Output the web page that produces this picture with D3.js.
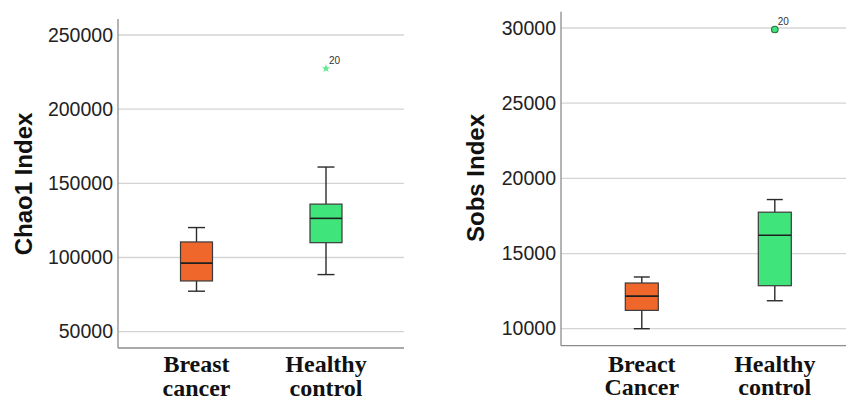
<!DOCTYPE html>
<html>
<head>
<meta charset="utf-8">
<script src="https://cdn.jsdelivr.net/npm/d3@7"></script>
<style>
  html, body { margin: 0; padding: 0; background: #fff; }
  svg { display: block; }
</style>
</head>
<body>
<svg id="chart" width="846" height="400"></svg>
<script>
// Chao1 richness: box-plot statistics per group
const chaoGroups = [["Breast", "cancer"], ["Healthy", "control"]];
const chaoLow    = [77300, 88500];
const chaoQ1     = [84200, 110000];
const chaoMedian = [96200, 126400];
const chaoQ3     = [110500, 136000];
const chaoHigh   = [120200, 161000];
const chaoOutliers = [{ group: 1, value: 227400, label: "20" }];
const chaoTicks  = [50000, 100000, 150000, 200000, 250000];

// Observed species (Sobs): box-plot statistics per group
const sobsGroups = [["Breact", "Cancer"], ["Healthy", "control"]];
const sobsLow    = [10000, 11860];
const sobsQ1     = [11220, 12860];
const sobsMedian = [12170, 16220];
const sobsQ3     = [13040, 17750];
const sobsHigh   = [13440, 18590];
const sobsOutliers = [{ group: 1, value: 29900, label: "20" }];
const sobsTicks  = [10000, 15000, 20000, 25000, 30000];

const groupColors = ["#F0672C", "#3FE57B"];

const svg = d3.select("#chart");

function panel(opt) {
  const g = svg.append("g");
  const y = d3.scaleLinear().domain(opt.domain).range([opt.bottom, opt.top]);
  const x = d3.scaleBand().domain(d3.range(opt.groups.length))
    .range(opt.bandRange).paddingInner(0).paddingOuter(0);

  // horizontal grid lines
  g.append("g").selectAll("line").data(opt.ticks).join("line")
    .attr("x1", opt.left).attr("x2", opt.gridRight)
    .attr("y1", d => y(d)).attr("y2", d => y(d))
    .attr("stroke", "#d4d4d4").attr("stroke-width", 1.3);

  // y axis with tick labels only
  const ax = g.append("g").attr("transform", `translate(${opt.left},0)`)
    .call(d3.axisLeft(y).tickValues(opt.ticks).tickSize(0).tickPadding(5).tickFormat(d3.format("d")));
  ax.select(".domain").remove();
  ax.selectAll("text").attr("font-family", "Liberation Sans, Arial, sans-serif")
    .attr("font-size", 19.5).attr("fill", "#222");

  // axis frame lines (left and bottom)
  g.append("line").attr("x1", opt.left).attr("x2", opt.left)
    .attr("y1", opt.top).attr("y2", opt.bottom)
    .attr("stroke", "#8c8c8c").attr("stroke-width", 1.3);
  g.append("line").attr("x1", opt.left).attr("x2", opt.gridRight)
    .attr("y1", opt.bottom).attr("y2", opt.bottom)
    .attr("stroke", "#8c8c8c").attr("stroke-width", 1.3);

  // boxes and whiskers
  const bw = opt.boxWidth, cw = opt.capWidth;
  opt.groups.forEach((grp, i) => {
    const cx = x(i) + x.bandwidth() / 2;
    const s = "#2b2b2b";
    g.append("line").attr("x1", cx).attr("x2", cx)
      .attr("y1", y(opt.high[i])).attr("y2", y(opt.q3[i])).attr("stroke", s).attr("stroke-width", 1.4);
    g.append("line").attr("x1", cx).attr("x2", cx)
      .attr("y1", y(opt.q1[i])).attr("y2", y(opt.low[i])).attr("stroke", s).attr("stroke-width", 1.4);
    [opt.high[i], opt.low[i]].forEach(v => {
      g.append("line").attr("x1", cx - cw / 2).attr("x2", cx + cw / 2)
        .attr("y1", y(v)).attr("y2", y(v)).attr("stroke", s).attr("stroke-width", 1.4);
    });
    g.append("rect").attr("x", cx - bw / 2).attr("width", bw)
      .attr("y", y(opt.q3[i])).attr("height", y(opt.q1[i]) - y(opt.q3[i]))
      .attr("fill", groupColors[i]).attr("stroke", "#3a3a3a").attr("stroke-width", 1.2);
    g.append("line").attr("x1", cx - bw / 2).attr("x2", cx + bw / 2)
      .attr("y1", y(opt.median[i])).attr("y2", y(opt.median[i]))
      .attr("stroke", "#1f1f1f").attr("stroke-width", 1.6);

    // two-line category label
    const t = g.append("text").attr("x", cx).attr("y", opt.labelY)
      .attr("text-anchor", "middle")
      .attr("font-family", "Liberation Serif, Times New Roman, serif")
      .attr("font-weight", "bold").attr("font-size", 24).attr("fill", "#111");
    grp.forEach((line, k) => {
      t.append("tspan").attr("x", cx).attr("dy", k === 0 ? 0 : opt.lineGap).text(line);
    });
  });

  // outliers
  opt.outliers.forEach(o => {
    const cx = x(o.group) + x.bandwidth() / 2;
    const cy = y(o.value);
    if (opt.outlierShape === "star") {
      g.append("path").attr("d", d3.symbol(d3.symbolStar, 22)())
        .attr("transform", `translate(${cx},${cy})`)
        .attr("fill", "#5BEA8E");
    } else {
      g.append("circle").attr("cx", cx).attr("cy", cy).attr("r", 3.3)
        .attr("fill", "#3FE57B").attr("stroke", "#2f6b3f").attr("stroke-width", 1.1);
    }
    g.append("text").attr("x", cx + 3).attr("y", cy - 5)
      .attr("font-family", "Liberation Sans, Arial, sans-serif")
      .attr("font-size", 10).attr("fill", "#333").text(o.label);
  });

  // y axis title
  g.append("text")
    .attr("transform", `translate(${opt.titleX},${opt.titleY}) rotate(-90)`)
    .attr("text-anchor", "middle")
    .attr("font-family", "Liberation Sans, Arial, sans-serif")
    .attr("font-weight", "bold").attr("font-size", 24).attr("fill", "#111")
    .text(opt.title);
}

panel({
  groups: chaoGroups, low: chaoLow, q1: chaoQ1, median: chaoMedian, q3: chaoQ3, high: chaoHigh,
  outliers: chaoOutliers, ticks: chaoTicks, outlierShape: "star",
  domain: [39000, 260800], top: 19, bottom: 348,
  left: 118, bandRange: [131.75, 390.75], gridRight: 404,
  boxWidth: 32, capWidth: 17,
  labelY: 372, lineGap: 23.5, title: "Chao1 Index", titleX: 32, titleY: 184
});

panel({
  groups: sobsGroups, low: sobsLow, q1: sobsQ1, median: sobsMedian, q3: sobsQ3, high: sobsHigh,
  outliers: sobsOutliers, ticks: sobsTicks, outlierShape: "circle",
  domain: [8870, 31084], top: 11.7, bottom: 345.7,
  left: 561, bandRange: [575.3, 841.3], gridRight: 846,
  boxWidth: 33, capWidth: 16,
  labelY: 371.5, lineGap: 23.5, title: "Sobs Index", titleX: 484, titleY: 178
});
</script>
</body>
</html>
